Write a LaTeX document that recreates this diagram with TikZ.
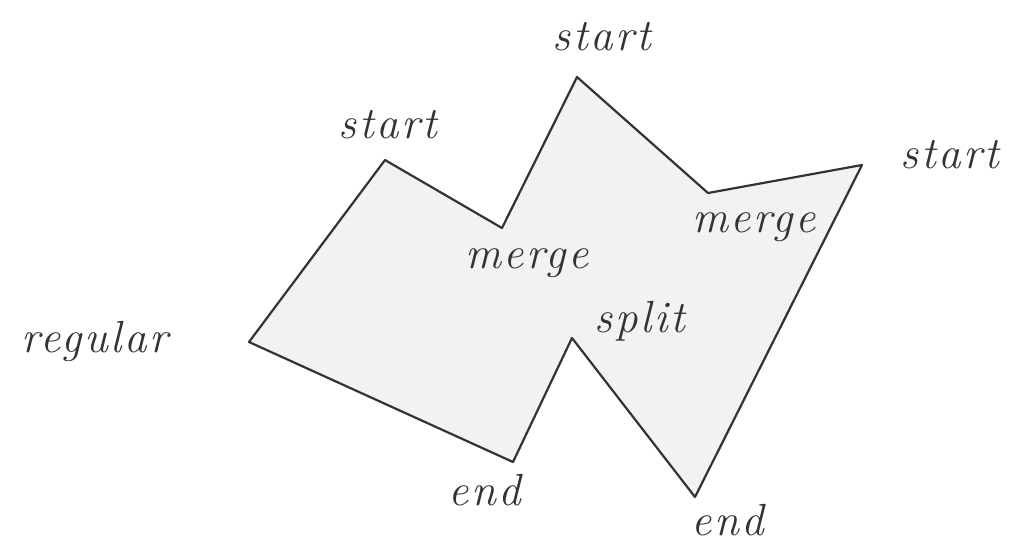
\documentclass[tikz,border=0pt]{standalone}
\usepackage{fontspec}
\newfontfamily\hand[LetterSpace=6]{Latin Modern Roman}
\begin{document}
\begin{tikzpicture}[x=1pt,y=-1pt,
  lbl/.style={anchor=base,font=\hand\fontsize{45}{50}\selectfont\itshape,text=black!80},
  edge/.style={line width=2.2pt,draw=black!80,line join=round}]
\useasboundingbox (0,0) rectangle (1015,547);
\coordinate (reg) at (249,342);
\coordinate (s1) at (385,160);
\coordinate (m1) at (502,228);
\coordinate (s2) at (577,77);
\coordinate (m2) at (708,193);
\coordinate (s3) at (862,165);
\coordinate (e2) at (695,497);
\coordinate (sp) at (572,338);
\coordinate (e1) at (513,462);
\fill[gray!10] (reg) -- (s1) -- (m1) -- (s2) -- (m2) -- (s3) -- (e2) -- (sp) -- (e1) -- cycle;
\draw[edge] (reg) -- (s1) -- (m1) -- (s2) -- (m2) -- (s3) -- (e2) -- (sp) -- (e1) -- cycle;
\node[lbl] (ls2) at (602,50) {start};
\node[lbl] (ls1) at (388,138) {start};
\node[lbl] (ls3) at (950,168) {start};
\node[lbl] (lm1) at (527,268) {merge};
\node[lbl] (lm2) at (754,232) {merge};
\node[lbl] (lsp) at (640,332) {split};
\node[lbl] (lreg) at (95,352) {regular};
\node[lbl] (le1) at (485,505) {end};
\node[lbl] (le2) at (728,535) {end};
\end{tikzpicture}
\end{document}
